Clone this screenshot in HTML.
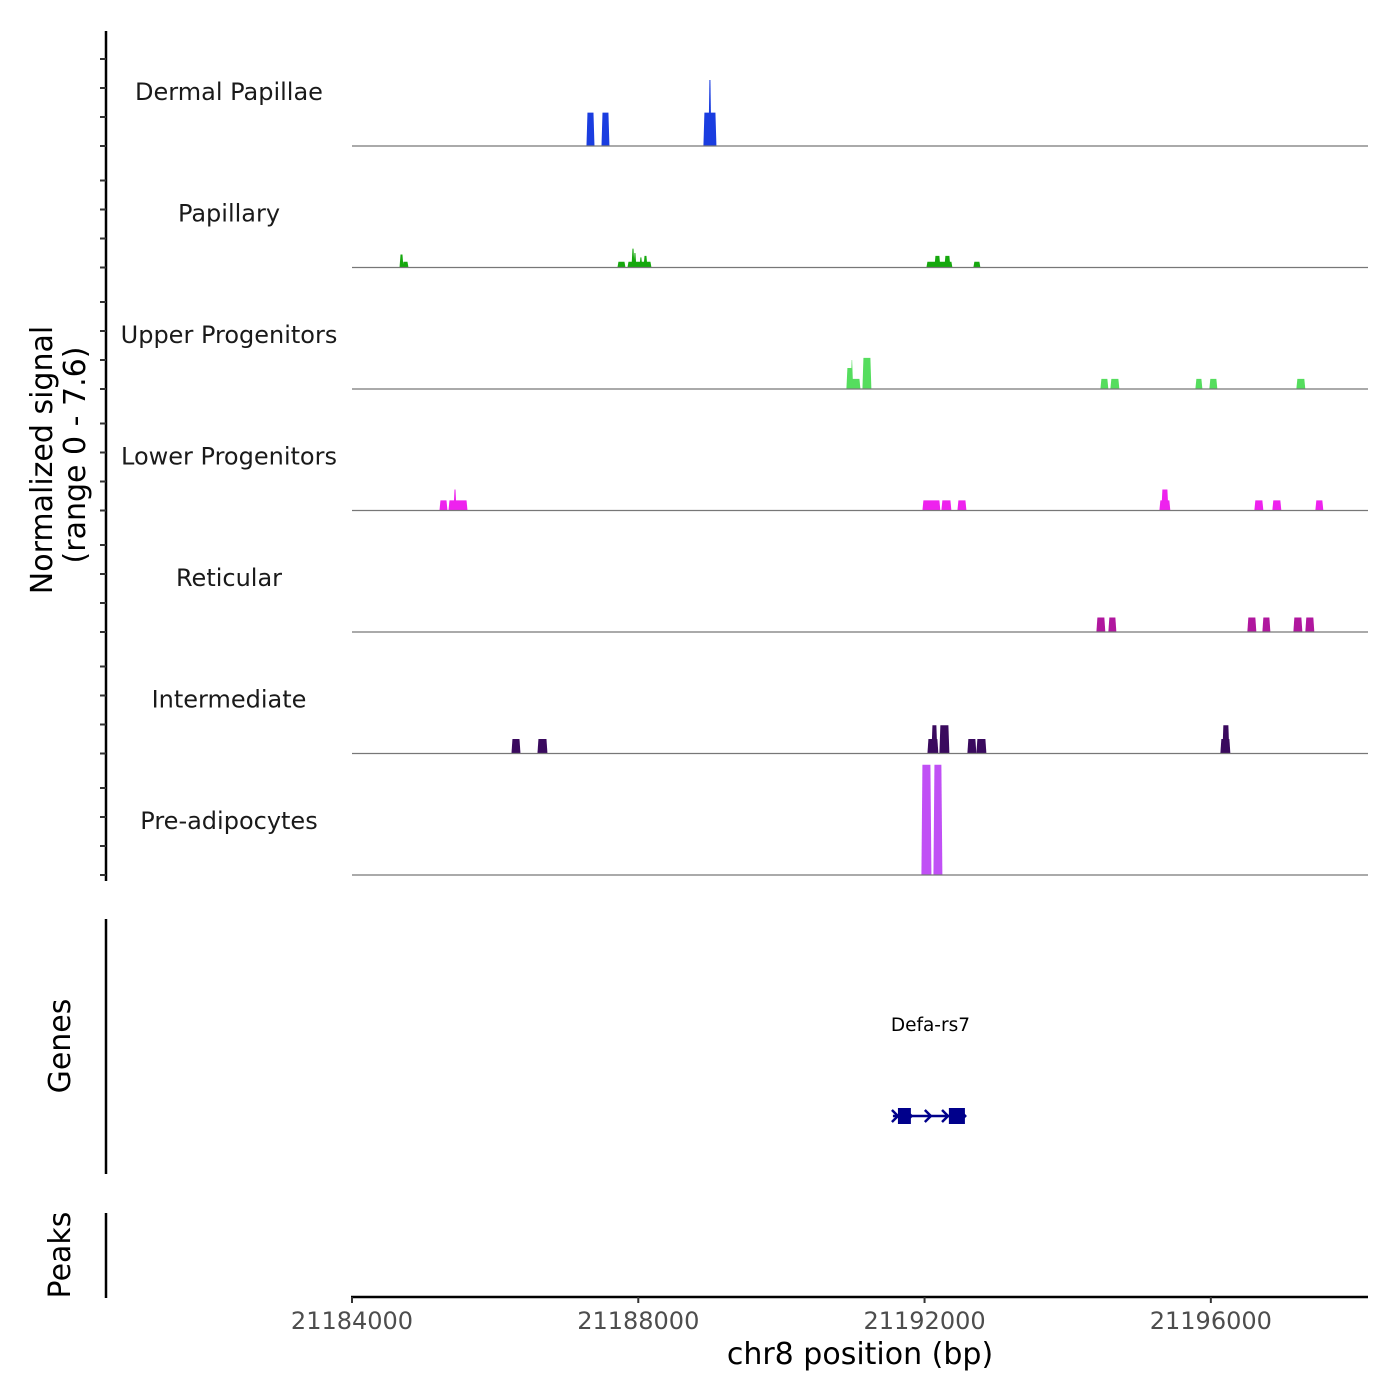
<!DOCTYPE html>
<html><head><meta charset="utf-8"><style>
html,body{margin:0;padding:0;background:#fff}
svg{display:block;font-family:"DejaVu Sans","Liberation Sans",sans-serif}
</style></head><body>
<svg id="chart" width="1400" height="1400" viewBox="0 0 1400 1400" xmlns="http://www.w3.org/2000/svg">
<g id="tracks"></g>
<g id="axes"></g>
<g id="genes"></g>
</svg>
<script>
const trackNames = ["Dermal Papillae","Papillary","Upper Progenitors","Lower Progenitors","Reticular","Intermediate","Pre-adipocytes"];
const trackColors = ["#1a3de0","#16a80e","#55dd5e","#ee22ee","#b0179e","#3a0a5e","#c050f5"];
// segments: [start bp, end bp, signal]
const dermalPapillae = [[21187283,21187381,2.3],[21187493,21187590,2.3],[21188917,21189085,2.3],[21188987,21189015,4.55]];
const papillary = [[21184671,21184712,0.9],[21184712,21184782,0.4],[21187716,21187814,0.4],[21187856,21188177,0.4],[21187912,21187940,1.3],[21187940,21187967,1.0],[21188023,21188050,0.7],[21188080,21188121,0.8],[21192033,21192382,0.4],[21192145,21192214,0.8],[21192284,21192354,0.8],[21192689,21192773,0.4]];
const upperProgenitors = [[21190915,21190985,1.45],[21190975,21190995,2.0],[21190985,21191097,0.7],[21191139,21191250,2.15],[21194464,21194561,0.7],[21194603,21194715,0.7],[21195791,21195875,0.7],[21195986,21196084,0.7],[21197202,21197313,0.7]];
const lowerProgenitors = [[21185229,21185327,0.7],[21185355,21185607,0.7],[21185425,21185453,1.45],[21191977,21192214,0.7],[21192242,21192368,0.7],[21192466,21192578,0.7],[21195288,21195427,0.7],[21195316,21195400,1.45],[21196615,21196727,0.7],[21196866,21196978,0.7],[21197467,21197565,0.7]];
const reticular = [[21194408,21194519,1.0],[21194575,21194673,1.0],[21196517,21196629,1.0],[21196727,21196825,1.0],[21197160,21197272,1.0],[21197327,21197439,1.0]];
const intermediate = [[21186235,21186347,1.0],[21186598,21186724,1.0],[21192047,21192186,1.0],[21192103,21192172,1.95],[21192214,21192340,1.95],[21192605,21192717,1.0],[21192731,21192857,1.0],[21196140,21196266,1.0],[21196168,21196252,1.95]];
const preAdipocytes = [[21191963,21192089,7.6],[21192131,21192242,7.6]];
const trackData = [dermalPapillae,papillary,upperProgenitors,lowerProgenitors,reticular,intermediate,preAdipocytes];
const xTicks = [21184000,21188000,21192000,21196000];
const xTickLabels = ["21184000","21188000","21192000","21196000"];
const geneName = "Defa-rs7";
const geneRange = [21191558,21192578];
const geneExons = [[21191628,21191809],[21192340,21192564]];
const geneArrows = [21191600,21191790,21192060,21192300,21192540];

const X0=352, X1=1368, BP0=21184000, BP1=21198196;
const x = bp => X0 + (bp-BP0)/(BP1-BP0)*(X1-X0);
const baselines = [146,267.5,389,510.5,632,753.5,875];
const yScale = v => v*14.5;
const NS="http://www.w3.org/2000/svg";
function mk(tag, attrs, parent){const e=document.createElementNS(NS,tag);for(const k in attrs)e.setAttribute(k,attrs[k]);parent.appendChild(e);return e;}

const tg=document.getElementById('tracks');
trackData.forEach((segs,i)=>{
  const b=baselines[i];
  const g=mk('g',{},tg);
  
  
  segs.forEach(s=>{
    const a=x(s[0]), c=x(s[1]), h=yScale(s[2]);
    const p=mk('polygon',{points:`${a-0.5},${b} ${a+0.5},${b-h} ${c-0.5},${b-h} ${c+0.5},${b}`,fill:trackColors[i]},g);
    
    
  });
  const l=mk('line',{x1:X0,x2:X1,y1:b,y2:b,stroke:'#777','stroke-width':1.2},g);
  
  
  const t=mk('text',{x:229,y:b-46,'text-anchor':'middle','font-size':24,fill:'#1a1a1a'},g);
  t.textContent=trackNames[i];
  
  
});

const ax=document.getElementById('axes');
let l=mk('line',{x1:106,x2:106,y1:31,y2:881,stroke:'#000','stroke-width':2.5},ax);


baselines.forEach(b=>{[87,58,29,0].forEach(o=>{const yy=b-o;const t=mk('line',{x1:100,x2:106,y1:yy,y2:yy,stroke:'#333','stroke-width':2},ax);
  
  });});
let yt=mk('text',{transform:'translate(52,460) rotate(-90)','text-anchor':'middle','font-size':30,fill:'#000'},ax);
yt.textContent='Normalized signal';


let yt2=mk('text',{transform:'translate(85,455) rotate(-90)','text-anchor':'middle','font-size':30,fill:'#000'},ax);
yt2.textContent='(range 0 - 7.6)';


l=mk('line',{x1:106,x2:106,y1:919,y2:1174,stroke:'#000','stroke-width':2.5},ax);


let gt=mk('text',{transform:'translate(70,1046) rotate(-90)','text-anchor':'middle','font-size':30,fill:'#000'},ax);
gt.textContent='Genes';


l=mk('line',{x1:106,x2:106,y1:1213,y2:1298,stroke:'#000','stroke-width':2.5},ax);


let pt=mk('text',{transform:'translate(70,1255) rotate(-90)','text-anchor':'middle','font-size':30,fill:'#000'},ax);
pt.textContent='Peaks';


l=mk('line',{x1:X0-1,x2:X1,y1:1297,y2:1297,stroke:'#000','stroke-width':2.5},ax);


xTicks.forEach((v,i)=>{const xx=x(v);
  const t=mk('line',{x1:xx,x2:xx,y1:1297,y2:1303,stroke:'#333','stroke-width':2},ax);
  
  
  const tx=mk('text',{x:xx,y:1329,'text-anchor':'middle','font-size':24,fill:'#4d4d4d'},ax);
  tx.textContent=xTickLabels[i];
  
  
});
let xt=mk('text',{x:860,y:1364,'text-anchor':'middle','font-size':30,fill:'#000'},ax);
xt.textContent='chr8 position (bp)';



const gg=document.getElementById('genes');
let gl=mk('line',{x1:x(geneRange[0]),x2:x(geneRange[1]),y1:1116,y2:1116,stroke:'#00008b','stroke-width':2.5},gg);


geneArrows.forEach(a=>{const xx=x(a);
  const p=mk('polyline',{points:`${xx-4},${1110} ${xx+2},1116 ${xx-4},1122`,fill:'none',stroke:'#00008b','stroke-width':2.5},gg);
  
  });
geneExons.forEach(e=>{const r=mk('rect',{x:x(e[0]),y:1108,width:x(e[1])-x(e[0]),height:16,fill:'#00008b'},gg);
  
  });
let gn=mk('text',{x:x((geneRange[0]+geneRange[1])/2)+1,y:1031,'text-anchor':'middle','font-size':18.5,fill:'#000'},gg);
gn.textContent=geneName;


</script>
</body></html>
